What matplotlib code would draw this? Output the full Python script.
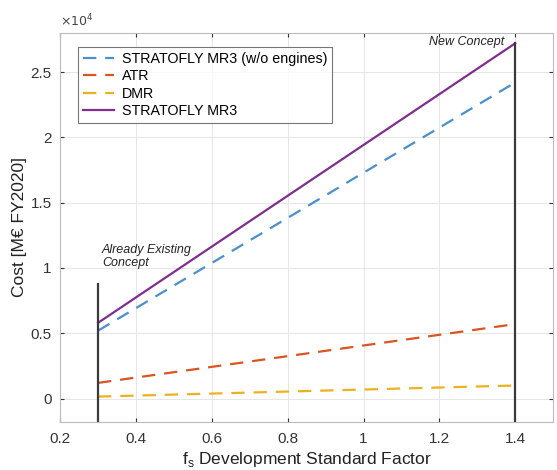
import matplotlib.pyplot as plt
import numpy as np

plt.rcParams['font.family'] = ['Liberation Sans', 'DejaVu Sans']

# f_s development standard factor (endpoints)
fs = [0.3, 1.4]

# costs [M EUR FY2020]
stratofly_no_eng = [5200, 24200]
atr = [1200, 5700]
dmr = [150, 1000]
stratofly = [5800, 27200]

# reference markers
existing_x, existing_top = 0.3, 8800
new_x, new_top = 1.4, 27200

fig = plt.figure(figsize=(5.57, 4.70), dpi=100)
ax = fig.add_axes([0.108, 0.102, 0.885, 0.828])

ax.plot(fs, stratofly_no_eng, '--', color='#4d8fc7', lw=1.6, dashes=(6, 4),
        label='STRATOFLY MR3 (w/o engines)')
ax.plot(fs, atr, '--', color='#d9541f', lw=1.6, dashes=(6, 4), label='ATR')
ax.plot(fs, dmr, '--', color='#edb120', lw=1.6, dashes=(6, 4), label='DMR')
ax.plot(fs, stratofly, '-', color='#7e2f8e', lw=1.6, label='STRATOFLY MR3')

ymin = -1800
ax.plot([existing_x, existing_x], [ymin, existing_top], color='#3a3a3a', lw=1.6)
ax.plot([new_x, new_x], [ymin, new_top], color='#3a3a3a', lw=1.6)

ax.text(0.31, 9900, 'Already Existing\nConcept', fontsize=9, style='italic',
        ha='left', va='bottom', color='#222222', linespacing=1.1)
ax.text(1.37, 27300, 'New Concept', fontsize=9, style='italic',
        ha='right', va='center', color='#222222')

ax.set_xlim(0.2, 1.5)
ax.set_ylim(ymin, 28000)
ax.set_xticks([0.2, 0.4, 0.6, 0.8, 1, 1.2, 1.4])
ax.set_xticklabels(['0.2', '0.4', '0.6', '0.8', '1', '1.2', '1.4'])
ax.set_yticks([0, 5000, 10000, 15000, 20000, 25000])
ax.set_yticklabels(['0', '0.5', '1', '1.5', '2', '2.5'])
ax.text(0.0, 1.008, r'$\times10^4$', transform=ax.transAxes, fontsize=9,
        ha='left', va='bottom', color='#444444')

ax.grid(True, color='#e6e6e6', lw=0.7)
ax.tick_params(direction='in', top=True, right=True, labelsize=11,
               colors='#333333', length=3)
ax.tick_params(axis='x', pad=7)
ax.tick_params(axis='y', pad=6)
for s in ax.spines.values():
    s.set_color('#bbbbbb')
    s.set_linewidth(0.8)

ax.set_xlabel('f$_\\mathregular{s}$ Development Standard Factor', fontsize=12.5,
              color='#222222', labelpad=3)
ax.set_ylabel('Cost [M€ FY2020]', fontsize=12.5, color='#222222', labelpad=3)

leg = ax.legend(loc='upper left', bbox_to_anchor=(0.036, 0.963), fontsize=10.3,
                frameon=True, fancybox=False, edgecolor='#555555',
                handlelength=2.2, handletextpad=0.5, borderpad=0.35,
                labelspacing=0.22, borderaxespad=0)
leg.get_frame().set_linewidth(0.8)

fig.savefig('out.png', dpi=100)
